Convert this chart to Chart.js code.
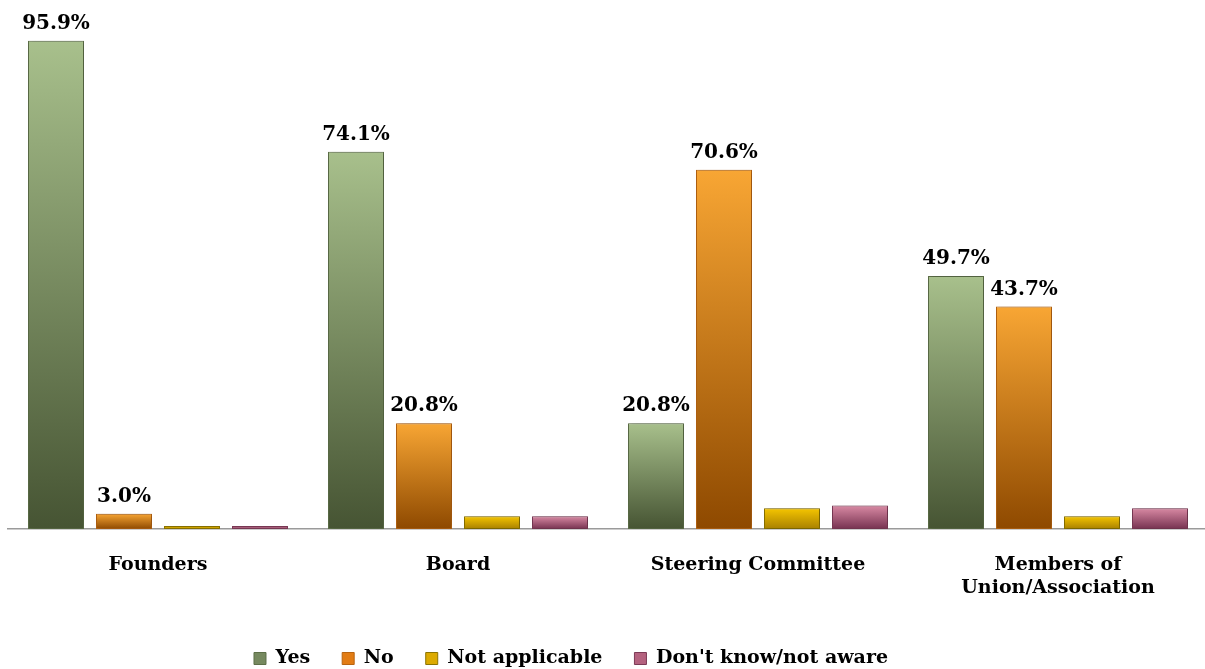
<!DOCTYPE html>
<html>
<head>
<meta charset="utf-8">
<script src="https://cdn.jsdelivr.net/npm/chart.js@4"></script>
<style>
html,body{margin:0;padding:0;background:#fff;overflow:hidden;}
#wrap{width:1210px;height:669px;}
</style>
</head>
<body>
<div id="wrap"><canvas id="c" width="1210" height="669"></canvas></div>
<script>
const categories = ['Founders', 'Board', 'Steering Committee', ['Members of', 'Union/Association']];
const seriesNames = ['Yes', 'No', 'Not applicable', "Don't know/not aware"];
const yesValues = [95.9, 74.1, 20.8, 49.7];
const noValues = [3.0, 20.8, 70.6, 43.7];
const notApplicableValues = [0.6, 2.5, 4.1, 2.5];
const dontKnowValues = [0.6, 2.5, 4.6, 4.1];
const labelledSeries = [true, true, false, false];

const gradTop = ['#a8c08c', '#f8a634', '#f6c600', '#d98aa4'];
const gradBottom = ['#465433', '#8e4900', '#a88000', '#763250'];
const legendColor = ['#76895f', '#e27c14', '#dcaa00', '#b4627f'];
const borderColors = ['#5d6f48', '#b86410', '#8c7400', '#7c3a56'];

const FONT = '"DejaVu Serif", "Liberation Serif", serif';

function makeFill(i) {
  return function (ctx) {
    const chart = ctx.chart;
    if (ctx.type !== 'data' || !chart.chartArea || !chart.scales.y) return legendColor[i];
    const ys = chart.scales.y;
    const top = ys.getPixelForValue(ctx.raw);
    const bottom = ys.getPixelForValue(0);
    if (!isFinite(top) || bottom - top < 1) return legendColor[i];
    const g = chart.ctx.createLinearGradient(0, top, 0, bottom);
    g.addColorStop(0, gradTop[i]);
    g.addColorStop(1, gradBottom[i]);
    return g;
  };
}

const valueLists = [yesValues, noValues, notApplicableValues, dontKnowValues];
const datasets = seriesNames.map((name, i) => ({
  label: name,
  data: valueLists[i],
  backgroundColor: makeFill(i),
  borderColor: borderColors[i],
  borderWidth: 1,
  borderSkipped: false,
  categoryPercentage: 0.9067,
  barPercentage: 0.8235
}));

const shadowPlugin = {
  id: 'barShadow',
  beforeDatasetsDraw(chart) {
    const c = chart.ctx;
    c.save();
    c.shadowColor = 'rgba(0,0,0,0.28)';
    c.shadowBlur = 5;
    c.shadowOffsetX = 1;
    c.shadowOffsetY = 0;
  },
  afterDatasetsDraw(chart) {
    chart.ctx.restore();
  }
};

const valueLabelPlugin = {
  id: 'valueLabels',
  afterDatasetsDraw(chart) {
    const c = chart.ctx;
    c.save();
    c.font = 'bold 20px ' + FONT;
    c.fillStyle = '#000';
    c.textAlign = 'center';
    c.textBaseline = 'alphabetic';
    chart.data.datasets.forEach((ds, di) => {
      if (!labelledSeries[di]) return;
      const meta = chart.getDatasetMeta(di);
      meta.data.forEach((bar, j) => {
        const v = ds.data[j];
        c.fillText(v.toFixed(1) + '%', bar.x, bar.y - 12);
      });
    });
    c.restore();
  }
};

const legendShiftPlugin = {
  id: 'legendShift',
  afterLayout(chart) {
    const lg = chart.legend;
    if (!lg) return;
    const dx = -37, dy = 9;
    lg.left += dx; lg.right += dx;
    lg.top += dy; lg.bottom += dy;
  }
};

new Chart(document.getElementById('c'), {
  type: 'bar',
  data: { labels: categories, datasets: datasets },
  options: {
    responsive: false,
    animation: false,
    layout: { padding: { left: 8, right: 2, top: 20, bottom: 0 } },
    scales: {
      x: {
        grid: { display: false },
        border: { display: true, color: '#9a9a9a', width: 1.5 },
        ticks: {
          color: '#000',
          font: { family: FONT, size: 19, weight: 'bold', lineHeight: 1.2 },
          padding: 17,
          maxRotation: 0,
          autoSkip: false
        },
        afterFit(scale) { scale.height = 79; }
      },
      y: {
        display: false,
        min: 0,
        max: 100
      }
    },
    plugins: {
      legend: {
        position: 'bottom',
        labels: {
          color: '#000',
          font: { family: FONT, size: 19, weight: 'bold' },
          boxWidth: 12,
          boxHeight: 12,
          padding: 32,
          generateLabels(chart) {
            const items = Chart.defaults.plugins.legend.labels.generateLabels(chart);
            items.forEach((it, k) => {
              it.fillStyle = legendColor[k];
              it.strokeStyle = borderColors[k];
              it.lineWidth = 1;
            });
            return items;
          }
        }
      },
      tooltip: { enabled: false }
    }
  },
  plugins: [shadowPlugin, valueLabelPlugin, legendShiftPlugin]
});
</script>
</body>
</html>
